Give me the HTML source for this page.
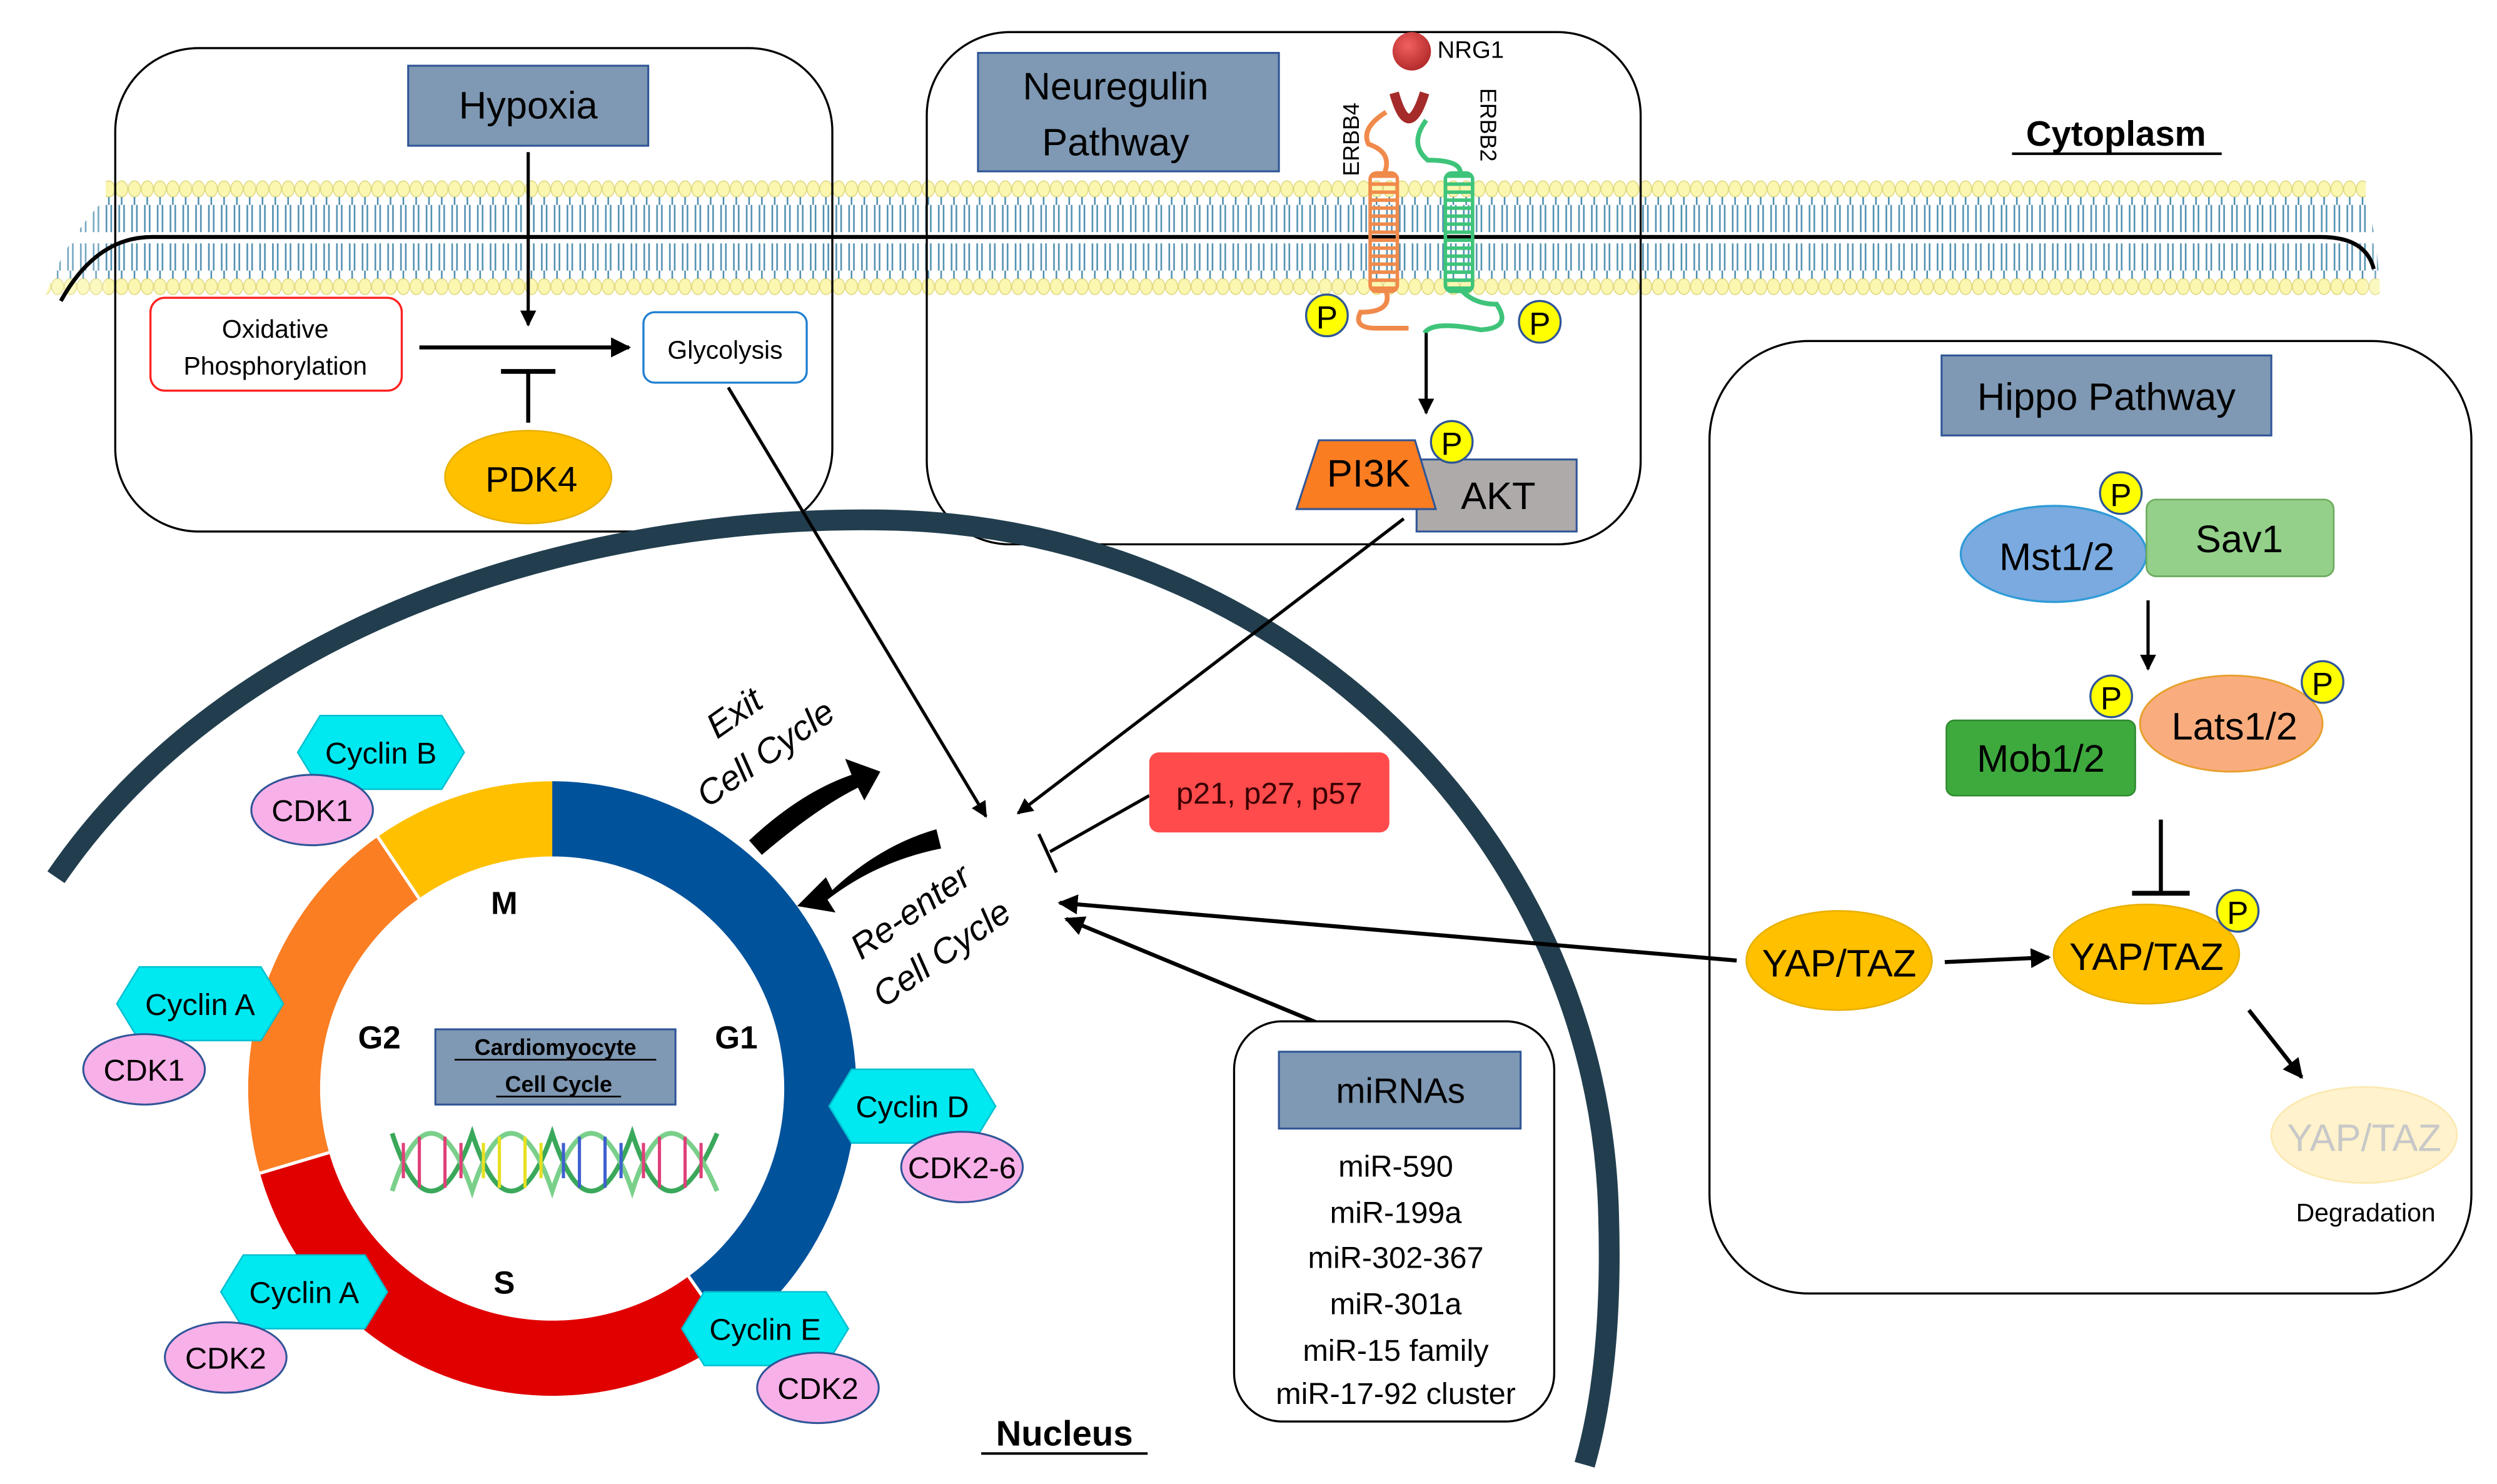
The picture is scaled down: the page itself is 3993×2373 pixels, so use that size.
<!DOCTYPE html>
<html><head><meta charset="utf-8"><style>
html,body{margin:0;padding:0;background:#fff}
svg{display:block}
text{font-family:"Liberation Sans",sans-serif}
</style></head><body>
<svg width="3993" height="2373" viewBox="0 0 1560 927" xmlns="http://www.w3.org/2000/svg">
<defs>
<pattern id="mem" patternUnits="userSpaceOnUse" x="0" y="110" width="8" height="76">
<ellipse cx="4" cy="8" rx="3.8" ry="5" fill="#fbf7b0" stroke="#e0d880" stroke-width="0.6"/>
<ellipse cx="4" cy="69" rx="3.8" ry="5" fill="#fbf7b0" stroke="#e0d880" stroke-width="0.6"/>
<path d="M4 13 V18 M2.5 18 V35 M5.5 18 V35 M4 59 V64 M2.5 42 V59 M5.5 42 V59" stroke="#4f8fb0" stroke-width="1" fill="none"/>
</pattern>
<marker id="ah" viewBox="0 0 10 10" refX="9" refY="5" markerWidth="5" markerHeight="5" orient="auto"><path d="M0 0 L10 5 L0 10 Z" fill="#000"/></marker>
<radialGradient id="nrg" cx="0.4" cy="0.35" r="0.7"><stop offset="0" stop-color="#f26060"/><stop offset="1" stop-color="#b02828"/></radialGradient>
</defs>

<!-- membrane -->
<rect x="66" y="110" width="1412" height="76" fill="url(#mem)"/>
<path d="M28 186 Q40 150 66 124 L66 186 Z" fill="url(#mem)" opacity="0.8"/>
<path d="M1478 124 Q1486 150 1487 186 L1478 186 Z" fill="url(#mem)" opacity="0.8"/>
<path d="M38 188 Q60 148 95 148 L1450 148 Q1478 148 1483 168" stroke="#000" stroke-width="2.5" fill="none"/>

<!-- Hypoxia panel -->
<rect x="72" y="30" width="448" height="302" rx="52" fill="none" stroke="#000" stroke-width="1.3"/>
<rect x="255" y="41" width="150" height="50" fill="#7f98b3" stroke="#2f5597" stroke-width="1.2"/>
<text x="330" y="74" font-size="24" text-anchor="middle">Hypoxia</text>
<rect x="94" y="186" width="157" height="58" rx="9" fill="#fff" stroke="#ff2020" stroke-width="1.3"/>
<text x="172" y="211" font-size="16" text-anchor="middle">Oxidative</text>
<text x="172" y="234" font-size="16" text-anchor="middle">Phosphorylation</text>
<rect x="402" y="195" width="102" height="44" rx="7" fill="#fff" stroke="#1f7fd0" stroke-width="1.3"/>
<text x="453" y="224" font-size="16" text-anchor="middle">Glycolysis</text>
<line x1="330" y1="95" x2="330" y2="203" stroke="#000" stroke-width="2" marker-end="url(#ah)"/>
<line x1="262" y1="217" x2="393" y2="217" stroke="#000" stroke-width="2.5" marker-end="url(#ah)"/>
<line x1="330" y1="264" x2="330" y2="232" stroke="#000" stroke-width="2.5"/>
<line x1="313" y1="232" x2="347" y2="232" stroke="#000" stroke-width="3"/>
<ellipse cx="330" cy="298" rx="52" ry="29" fill="#ffc000" stroke="#e8b000"/>
<text x="332" y="307" font-size="22" text-anchor="middle">PDK4</text>

<!-- Neuregulin panel -->
<rect x="579" y="20" width="446" height="320" rx="52" fill="none" stroke="#000" stroke-width="1.3"/>
<rect x="611" y="33" width="188" height="74" fill="#7f98b3" stroke="#2f5597" stroke-width="1.2"/>
<text x="697" y="62" font-size="24" text-anchor="middle">Neuregulin</text>
<text x="697" y="97" font-size="24" text-anchor="middle">Pathway</text>
<circle cx="882" cy="32" r="12" fill="url(#nrg)"/>
<text x="898" y="36" font-size="15">NRG1</text>
<path d="M871 58 Q880 90 890 58" stroke="#a52a2a" stroke-width="6" fill="none"/>
<text transform="translate(849,110) rotate(-90)" font-size="14">ERBB4</text>
<text transform="translate(925,55) rotate(90)" font-size="14">ERBB2</text>
<path d="M866 70 Q850 80 855 90 Q870 95 865 108" stroke="#f08a4b" stroke-width="3" fill="none"/>
<path d="M866 182 Q870 195 850 195 Q845 205 860 205 L880 205" stroke="#f08a4b" stroke-width="3" fill="none"/>
<g stroke="#f08a4b" stroke-width="2.2" fill="none">
<path d="M856 110 h17 M856 115 h17 M856 120 h17 M856 125 h17 M856 130 h17 M856 135 h17 M856 140 h17 M856 145 h17 M856 150 h17 M856 155 h17 M856 160 h17 M856 165 h17 M856 170 h17 M856 175 h17 M856 180 h17"/>
<rect x="856" y="108" width="17" height="74" rx="4"/>
</g>
<path d="M891 75 Q880 90 892 100 Q915 100 912 110" stroke="#3ec47a" stroke-width="3" fill="none"/>
<path d="M912 180 Q920 190 935 190 Q945 205 925 206 Q895 200 890 208" stroke="#3ec47a" stroke-width="3" fill="none"/>
<g stroke="#3ec47a" stroke-width="2.2" fill="none">
<path d="M903 110 h17 M903 115 h17 M903 120 h17 M903 125 h17 M903 130 h17 M903 135 h17 M903 140 h17 M903 145 h17 M903 150 h17 M903 155 h17 M903 160 h17 M903 165 h17 M903 170 h17 M903 175 h17 M903 180 h17"/>
<rect x="903" y="108" width="17" height="74" rx="4"/>
</g>
<circle cx="829" cy="197" r="13" fill="#ffff00" stroke="#2f5597" stroke-width="1.3"/><text x="829" y="205" font-size="20" text-anchor="middle">P</text>
<circle cx="962" cy="201" r="13" fill="#ffff00" stroke="#2f5597" stroke-width="1.3"/><text x="962" y="209" font-size="20" text-anchor="middle">P</text>
<line x1="891" y1="208" x2="891" y2="258" stroke="#000" stroke-width="2" marker-end="url(#ah)"/>
<rect x="885" y="287" width="100" height="45" fill="#aeaaaa" stroke="#2f5597" stroke-width="1.2"/>
<text x="936" y="318" font-size="24" text-anchor="middle">AKT</text>
<polygon points="810,318 897,318 884,275 824,275" fill="#fa7d22" stroke="#2f5597" stroke-width="1.2"/>
<text x="855" y="304" font-size="24" text-anchor="middle">PI3K</text>
<circle cx="907" cy="276" r="13" fill="#ffff00" stroke="#2f5597" stroke-width="1.3"/><text x="907" y="284" font-size="20" text-anchor="middle">P</text>

<text x="1322" y="91" font-size="22" font-weight="bold" text-anchor="middle">Cytoplasm</text>
<line x1="1257" y1="96" x2="1388" y2="96" stroke="#000" stroke-width="1.6"/>

<!-- Nucleus -->
<path d="M35 548 C150 380 380 320 560 325 C800 332 1000 520 1005 760 C1007 830 1000 880 990 915" stroke="#223e4e" stroke-width="13" fill="none"/>
<text x="665" y="903" font-size="22" font-weight="bold" text-anchor="middle">Nucleus</text>
<line x1="613" y1="908" x2="717" y2="908" stroke="#000" stroke-width="1.6"/>

<!-- cell cycle ring -->
<g transform="translate(345,680)">
<path d="M0 -192 A190 192 0 0 1 111.7 155.3 L85.2 117.3 A145 145 0 0 0 0 -145 Z" fill="#00529b"/>
<path d="M111.7 155.3 A190 192 0 0 1 -182.6 52.9 L-139.4 40 A145 145 0 0 0 85.2 117.3 Z" fill="#e00000"/>
<path d="M-182.6 52.9 A190 192 0 0 1 -109 -157.3 L-83.2 -118.8 A145 145 0 0 0 -139.4 40 Z" fill="#fb7e23"/>
<path d="M-109 -157.3 A190 192 0 0 1 0 -192 L0 -145 A145 145 0 0 0 -83.2 -118.8 Z" fill="#ffc000"/>
<path d="M85.2 117.3 L111.7 155.3 M-139.4 40 L-182.6 52.9 M-83.2 -118.8 L-109 -157.3" stroke="#fff" stroke-width="2"/>
</g>
<g font-size="20" font-weight="bold" text-anchor="middle">
<text x="315" y="571">M</text><text x="237" y="655">G2</text><text x="460" y="655">G1</text><text x="315" y="808">S</text>
</g>
<rect x="272" y="643" width="150" height="47" fill="#7f98b3" stroke="#2f5597" stroke-width="1.2"/>
<text x="347" y="659" font-size="14" font-weight="bold" text-anchor="middle">Cardiomyocyte</text>
<line x1="284" y1="662" x2="410" y2="662" stroke="#000" stroke-width="1"/>
<text x="349" y="682" font-size="14" font-weight="bold" text-anchor="middle">Cell Cycle</text>
<line x1="310" y1="685" x2="388" y2="685" stroke="#000" stroke-width="1"/>
<g fill="none" stroke-width="3">
<path d="M245 708 Q257 745 270 744 Q283 743 295 708 Q307 745 320 744 Q333 743 345 708 Q357 745 370 744 Q383 743 395 708 Q407 745 420 744 Q433 743 448 708" stroke="#3aa85a"/>
<path d="M245 744 Q257 707 270 708 Q283 709 295 744 Q307 707 320 708 Q333 709 345 744 Q357 707 370 708 Q383 709 395 744 Q407 707 420 708 Q433 709 448 744" stroke="#7ad08a"/>
<g stroke-width="2"><path d="M252 714v22M262 710v32M278 710v32M288 714v22" stroke="#e0407a"/><path d="M302 714v22M312 710v32M328 710v32M338 714v22" stroke="#e8e020"/><path d="M352 714v22M362 710v32M378 710v32M388 714v22" stroke="#4060d0"/><path d="M402 714v22M412 710v32M428 710v32M438 714v22" stroke="#e0407a"/></g>
</g>

<g font-size="19" text-anchor="middle">
<g><polygon points="186,470 200,447 276,447 290,470 276,493 200,493" fill="#00e8f0" stroke="#00c0d0"/><text x="238" y="477">Cyclin B</text></g>
<g><ellipse cx="195" cy="506" rx="38" ry="22" fill="#f8b0e8" stroke="#2f5597" stroke-width="1.2"/><text x="195" y="513">CDK1</text></g>
<g><polygon points="73,627 87,604 163,604 177,627 163,650 87,650" fill="#00e8f0" stroke="#00c0d0"/><text x="125" y="634">Cyclin A</text></g>
<g><ellipse cx="90" cy="668" rx="38" ry="22" fill="#f8b0e8" stroke="#2f5597" stroke-width="1.2"/><text x="90" y="675">CDK1</text></g>
<g><polygon points="518,691 532,668 608,668 622,691 608,714 532,714" fill="#00e8f0" stroke="#00c0d0"/><text x="570" y="698">Cyclin D</text></g>
<g><ellipse cx="601" cy="729" rx="38" ry="22" fill="#f8b0e8" stroke="#2f5597" stroke-width="1.2"/><text x="601" y="736">CDK2-6</text></g>
<g><polygon points="138,807 152,784 228,784 242,807 228,830 152,830" fill="#00e8f0" stroke="#00c0d0"/><text x="190" y="814">Cyclin A</text></g>
<g><ellipse cx="141" cy="848" rx="38" ry="22" fill="#f8b0e8" stroke="#2f5597" stroke-width="1.2"/><text x="141" y="855">CDK2</text></g>
<g><polygon points="426,830 440,807 516,807 530,830 516,853 440,853" fill="#00e8f0" stroke="#00c0d0"/><text x="478" y="837">Cyclin E</text></g>
<g><ellipse cx="511" cy="867" rx="38" ry="22" fill="#f8b0e8" stroke="#2f5597" stroke-width="1.2"/><text x="511" y="874">CDK2</text></g>
</g>

<text transform="translate(448,462) rotate(-35)" font-size="22" font-style="italic">Exit</text>
<text transform="translate(442,505) rotate(-35)" font-size="22" font-style="italic">Cell Cycle</text>
<path d="M468 525 Q500 495 532 484 L528 474 L550 482 L540 500 L536 492 Q510 505 476 534 Z" fill="#000"/>
<path d="M585 518 Q550 528 520 556 L516 548 L498 566 L522 570 L517 562 Q548 538 588 530 Z" fill="#000"/>
<text transform="translate(538,600) rotate(-35)" font-size="22" font-style="italic">Re-enter</text>
<text transform="translate(552,630) rotate(-35)" font-size="22" font-style="italic">Cell Cycle</text>

<line x1="455" y1="242" x2="616" y2="510" stroke="#000" stroke-width="2" marker-end="url(#ah)"/>
<line x1="877" y1="324" x2="636" y2="508" stroke="#000" stroke-width="2" marker-end="url(#ah)"/>
<line x1="718" y1="497" x2="656" y2="532" stroke="#000" stroke-width="2"/>
<line x1="649" y1="521" x2="660" y2="545" stroke="#000" stroke-width="2"/>
<rect x="718" y="470" width="150" height="50" rx="6" fill="#ff4b4b"/>
<text x="793" y="502" font-size="19" text-anchor="middle" fill="#3a0000">p21, p27, p57</text>
<line x1="1085" y1="600" x2="662" y2="564" stroke="#000" stroke-width="2.5" marker-end="url(#ah)"/>
<line x1="845" y1="648" x2="666" y2="574" stroke="#000" stroke-width="2.5" marker-end="url(#ah)"/>

<rect x="771" y="638" width="200" height="250" rx="30" fill="#fff" stroke="#000" stroke-width="1.3"/>
<rect x="799" y="657" width="151" height="48" fill="#7f98b3" stroke="#2f5597" stroke-width="1.2"/>
<text x="875" y="689" font-size="22" text-anchor="middle">miRNAs</text>
<g font-size="19" text-anchor="middle">
<text x="872" y="735">miR-590</text><text x="872" y="764">miR-199a</text><text x="872" y="792">miR-302-367</text><text x="872" y="821">miR-301a</text><text x="872" y="850">miR-15 family</text><text x="872" y="877">miR-17-92 cluster</text>
</g>

<rect x="1068" y="213" width="476" height="595" rx="62" fill="none" stroke="#000" stroke-width="1.3"/>
<rect x="1213" y="222" width="206" height="50" fill="#7f98b3" stroke="#2f5597" stroke-width="1.2"/>
<text x="1316" y="256" font-size="24" text-anchor="middle">Hippo Pathway</text>
<ellipse cx="1283" cy="346" rx="58" ry="30" fill="#7aaadf" stroke="#2f9bd7" stroke-width="1.3"/>
<text x="1285" y="356" font-size="24" text-anchor="middle">Mst1/2</text>
<rect x="1341" y="312" width="117" height="48" rx="6" fill="#94d08a" stroke="#6aaa5a"/>
<text x="1399" y="345" font-size="24" text-anchor="middle">Sav1</text>
<circle cx="1325" cy="308" r="13" fill="#ffff00" stroke="#2f5597" stroke-width="1.3"/><text x="1325" y="316" font-size="20" text-anchor="middle">P</text>
<line x1="1342" y1="375" x2="1342" y2="418" stroke="#000" stroke-width="2" marker-end="url(#ah)"/>
<rect x="1216" y="450" width="118" height="47" rx="5" fill="#3eaa3e" stroke="#2e8a2e"/>
<text x="1275" y="482" font-size="24" text-anchor="middle">Mob1/2</text>
<ellipse cx="1394" cy="452" rx="57" ry="30" fill="#f9ad7f" stroke="#e8a030" stroke-width="1.2"/>
<text x="1396" y="462" font-size="24" text-anchor="middle">Lats1/2</text>
<circle cx="1319" cy="435" r="13" fill="#ffff00" stroke="#2f5597" stroke-width="1.3"/><text x="1319" y="443" font-size="20" text-anchor="middle">P</text>
<circle cx="1451" cy="426" r="13" fill="#ffff00" stroke="#2f5597" stroke-width="1.3"/><text x="1451" y="434" font-size="20" text-anchor="middle">P</text>
<line x1="1350" y1="512" x2="1350" y2="558" stroke="#000" stroke-width="2.5"/>
<line x1="1332" y1="558" x2="1368" y2="558" stroke="#000" stroke-width="3"/>
<ellipse cx="1149" cy="600" rx="58" ry="31" fill="#ffc000" stroke="#e8b000"/>
<text x="1149" y="610" font-size="24" text-anchor="middle">YAP/TAZ</text>
<ellipse cx="1341" cy="596" rx="58" ry="31" fill="#ffc000" stroke="#e8b000"/>
<text x="1341" y="606" font-size="24" text-anchor="middle">YAP/TAZ</text>
<circle cx="1398" cy="569" r="13" fill="#ffff00" stroke="#2f5597" stroke-width="1.3"/><text x="1398" y="577" font-size="20" text-anchor="middle">P</text>
<line x1="1215" y1="601" x2="1280" y2="598" stroke="#000" stroke-width="2.5" marker-end="url(#ah)"/>
<line x1="1405" y1="631" x2="1438" y2="673" stroke="#000" stroke-width="2.5" marker-end="url(#ah)"/>
<ellipse cx="1477" cy="709" rx="58" ry="30" fill="#fff2cc" stroke="#fbe8b0"/>
<text x="1477" y="719" font-size="24" text-anchor="middle" fill="#c8c8c8">YAP/TAZ</text>
<text x="1478" y="763" font-size="16" text-anchor="middle">Degradation</text>
</svg>
</body></html>
